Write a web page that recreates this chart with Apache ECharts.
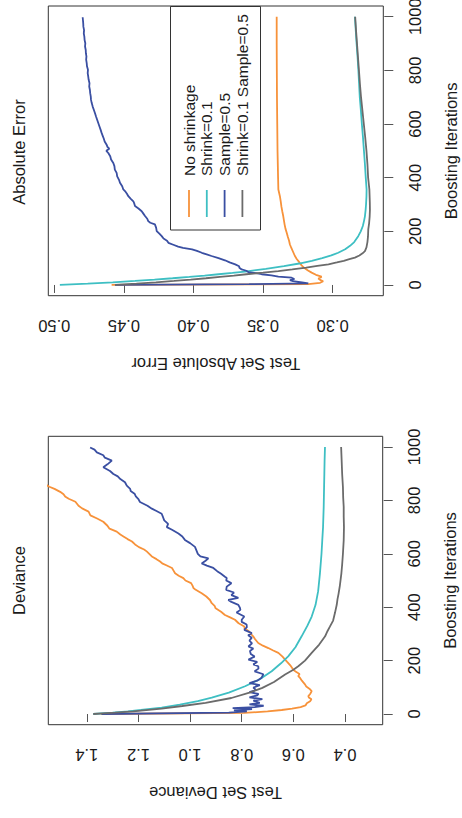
<!DOCTYPE html>
<html>
<head>
<meta charset="utf-8">
<script src="https://cdn.jsdelivr.net/npm/echarts@6/dist/echarts.min.js"></script>
<style>
html,body{margin:0;padding:0;background:#fff;}
#chart{width:462px;height:818px;}
</style>
</head>
<body>
<div id="chart"></div>
<script>
// ---------- data ----------
const seriesNames = ["No shrinkage", "Shrink=0.1", "Sample=0.5", "Shrink=0.1 Sample=0.5"];
const iterTicks = [0, 200, 400, 600, 800, 1000];
const absTicks = [0.30, 0.35, 0.40, 0.45, 0.50];
const devTicks = [0.4, 0.6, 0.8, 1.0, 1.2, 1.4];

// Absolute Error panel
const absNoShrinkIter = [0,3,8,14,19,24,28,31,38,46,55,64,73,85,97,108,122,137,151,165,180,195,210,225,241,257,275,292,312,331,356,400,450,500,600,700,800,900,1000];
const absNoShrink = [0.4588,0.3175,0.309,0.3068,0.309,0.3103,0.3085,0.308,0.312,0.3151,0.318,0.3205,0.3223,0.324,0.3258,0.3271,0.3283,0.3296,0.3307,0.3313,0.3322,0.333,0.3339,0.3345,0.335,0.3355,0.3362,0.3368,0.3373,0.3379,0.339,0.3392,0.3394,0.3396,0.3398,0.34,0.3401,0.3402,0.3402];

const absShrinkIter = [0,5,10,15,20,25,30,35,40,45,50,60,70,80,90,100,110,120,133,146,160,182,200,220,240,256,280,300,330,356,400,450,500,550,600,650,700,750,800,850,900,950,1000];
const absShrink = [0.496,0.476,0.458,0.442,0.428,0.415,0.403,0.392,0.382,0.372,0.363,0.348,0.335,0.324,0.315,0.3075,0.301,0.296,0.291,0.2875,0.2845,0.2816,0.2798,0.2783,0.2774,0.2768,0.2763,0.276,0.2757,0.2756,0.2762,0.2768,0.2775,0.2782,0.279,0.2797,0.2805,0.281,0.2815,0.2821,0.2828,0.2834,0.284];

const absSampleIter = [0,3,6,10,14,18,22,27,31,36,40,44,48,53,58,64,70,77,84,92,100,108,114,120,127,133,138,143,150,157,165,173,182,191,201,213,226,232,238,247,257,266,275,285,294,303,312,322,331,340,350,356,368,381,392,405,418,430,443,455,468,480,492,500,508,515,523,535,545,556,567,580,592,604,616,628,641,653,665,678,690,703,715,727,740,752,765,777,790,802,815,827,840,852,864,876,889,901,913,926,938,950,963,975,987,998];
const absSample = [0.4564,0.36,0.3175,0.322,0.3285,0.3307,0.3275,0.3295,0.339,0.344,0.351,0.355,0.3606,0.362,0.3654,0.367,0.3672,0.370,0.374,0.3774,0.382,0.387,0.3905,0.394,0.3975,0.401,0.4075,0.411,0.4145,0.418,0.419,0.4215,0.4228,0.4245,0.4264,0.4268,0.4277,0.431,0.4325,0.4332,0.4348,0.436,0.4372,0.4395,0.442,0.4425,0.4432,0.4452,0.4468,0.4478,0.4492,0.4504,0.4512,0.4528,0.4535,0.4548,0.4552,0.4565,0.4568,0.4576,0.4592,0.4598,0.4612,0.4626,0.4605,0.4618,0.4624,0.4638,0.4644,0.4652,0.466,0.4668,0.4676,0.4684,0.4692,0.47,0.4708,0.4716,0.4724,0.4731,0.4736,0.4738,0.4742,0.4744,0.4749,0.4747,0.4753,0.4756,0.476,0.4758,0.4765,0.4767,0.4771,0.4769,0.4773,0.4774,0.4779,0.4777,0.4782,0.4784,0.4788,0.4786,0.4791,0.4792,0.4794,0.4796];

const absBothIter = [0,5,10,15,20,25,30,35,40,46,52,58,65,71,77,84,90,96,102,110,118,126,140,160,180,207,230,255,281,310,356,400,450,500,550,600,650,700,750,800,850,900,950,1000];
const absBoth = [0.4564,0.441,0.427,0.414,0.402,0.391,0.381,0.371,0.362,0.35,0.339,0.329,0.319,0.311,0.303,0.297,0.292,0.288,0.284,0.2808,0.2785,0.2768,0.2757,0.275,0.2746,0.2744,0.2738,0.2734,0.2732,0.2733,0.2736,0.2745,0.275,0.2757,0.2766,0.2776,0.2786,0.2796,0.2804,0.2811,0.2818,0.2825,0.2832,0.2838];

// Deviance panel
const devNoShrinkIter = [0,4,10,15,20,26,32,40,48,55,62,67,75,86,95,103,111,125,135,142,150,158,166,180,195,204,215,229,238,247,256,266,280,290,297,310,320,328,340,353,362,371,383,396,405,415,427,440,452,465,472,480,490,500,509,518,527,537,547,556,564,571,580,590,600,609,616,625,635,646,655,665,672,683,694,705,720,732,744,758,770,780,795,806,815,823,832,843,851,860];
const devNoShrink = [1.345,0.79,0.70,0.645,0.605,0.572,0.553,0.548,0.535,0.53,0.54,0.542,0.535,0.529,0.538,0.55,0.555,0.567,0.574,0.581,0.576,0.59,0.60,0.61,0.624,0.632,0.642,0.658,0.678,0.697,0.718,0.736,0.748,0.755,0.761,0.772,0.789,0.79,0.812,0.826,0.845,0.865,0.88,0.901,0.905,0.916,0.923,0.937,0.955,0.978,0.987,0.99,0.996,1.018,1.026,1.044,1.058,1.064,1.07,1.09,1.108,1.116,1.13,1.148,1.158,1.168,1.178,1.198,1.213,1.225,1.242,1.258,1.27,1.284,1.312,1.32,1.336,1.36,1.386,1.393,1.418,1.432,1.444,1.47,1.484,1.49,1.503,1.525,1.545,1.56];

const devShrinkIter = [0,5,10,15,24,35,48,61,80,104,130,160,190,216,250,291,330,365,409,460,527,600,651,700,775,850,900,950,1000];
const devShrink = [1.375,1.30,1.24,1.19,1.11,1.04,0.97,0.916,0.85,0.787,0.73,0.684,0.648,0.62,0.592,0.568,0.546,0.529,0.514,0.504,0.497,0.491,0.488,0.485,0.4825,0.481,0.48,0.479,0.4775];

const devSampleIter = [0,5,10,14,18,22,26,31,36,42,50,56,62,70,75,82,90,99,108,116,125,136,149,160,170,179,186,195,204,215,225,236,245,253,265,275,286,295,303,315,325,335,345,353,365,380,390,398,409,420,427,435,445,455,465,477,490,500,509,514,525,535,547,556,564,574,583,590,600,612,626,640,652,665,676,690,700,712,725,738,750,760,769,780,794,805,815,825,835,843,855,868,880,890,899,910,924,935,949,960,969,980,990,998];
const devSample = [1.342,0.85,0.78,0.83,0.76,0.835,0.75,0.715,0.77,0.73,0.755,0.72,0.77,0.74,0.735,0.77,0.745,0.755,0.73,0.77,0.74,0.723,0.716,0.75,0.735,0.736,0.755,0.74,0.774,0.75,0.765,0.768,0.755,0.774,0.76,0.77,0.761,0.775,0.761,0.79,0.78,0.781,0.80,0.80,0.79,0.82,0.805,0.807,0.813,0.84,0.852,0.813,0.84,0.83,0.86,0.858,0.84,0.86,0.858,0.865,0.88,0.895,0.91,0.935,0.955,0.94,0.929,0.96,0.97,0.975,0.981,1.0,1.02,1.03,1.045,1.07,1.09,1.085,1.10,1.105,1.11,1.13,1.148,1.165,1.194,1.20,1.21,1.215,1.23,1.232,1.245,1.252,1.27,1.28,1.297,1.31,1.336,1.32,1.303,1.33,1.336,1.361,1.37,1.387];

const devBothIter = [0,5,10,20,30,42,60,80,98,120,148,166,179,200,229,260,291,310,328,350,378,409,430,450,480,527,560,600,651,700,740,775,810,850,899,950,1000];
const devBoth = [1.375,1.29,1.22,1.11,1.03,0.94,0.84,0.77,0.72,0.675,0.632,0.60,0.581,0.555,0.529,0.50,0.477,0.468,0.458,0.446,0.439,0.432,0.429,0.425,0.42,0.414,0.411,0.408,0.405,0.404,0.405,0.405,0.407,0.408,0.411,0.413,0.415];

// ---------- build ----------
const colors = ["#F7923A", "#3EBFC3", "#3A4FA2", "#6B6B6B"];
function pairs(iters, vals) { return iters.map((it, i) => [vals[i], it]); }

const FONT = '"Liberation Sans", Arial, Helvetica, sans-serif';
const TXT = '#1a1a1a';
const FS = 16.5;

function valueAxis(grid, min, max, ticks, digits, name) {
  return {
    type: 'value', gridIndex: grid, position: 'bottom', inverse: true,
    min: min, max: max, offset: 2,
    axisLine: { show: false },
    splitLine: { show: false },
    axisTick: { show: true, length: 8, customValues: ticks, lineStyle: { color: '#555', width: 1 } },
    axisLabel: { customValues: ticks, rotate: 180, margin: 20, fontSize: FS, fontFamily: FONT, color: TXT,
      formatter: v => Number(v).toFixed(digits) },
    name: name, nameLocation: 'middle', nameRotate: 180, nameGap: 58,
    nameTextStyle: { fontSize: FS, fontFamily: FONT, color: TXT }
  };
}
function iterAxis(grid) {
  return {
    type: 'value', gridIndex: grid, position: 'right',
    min: -40, max: 1040, offset: 1,
    axisLine: { show: false },
    splitLine: { show: false },
    axisTick: { show: true, length: 9, customValues: iterTicks, lineStyle: { color: '#555', width: 1 } },
    axisLabel: { customValues: iterTicks, rotate: 90, margin: 22, fontSize: FS, fontFamily: FONT, color: TXT,
      formatter: v => String(Math.round(v)) },
    name: 'Boosting Iterations', nameLocation: 'middle', nameRotate: 90, nameGap: 58,
    nameTextStyle: { fontSize: FS, fontFamily: FONT, color: TXT }
  };
}
function lineSeries(idx, grid, data) {
  return {
    type: 'line', name: seriesNames[idx], xAxisIndex: grid, yAxisIndex: grid,
    data: data, showSymbol: false, symbol: 'none', clip: true, smooth: false,
    lineStyle: { color: colors[idx], width: 1.8 }, itemStyle: { color: colors[idx] },
    z: 2 + idx
  };
}

const absData = [pairs(absNoShrinkIter, absNoShrink), pairs(absShrinkIter, absShrink), pairs(absSampleIter, absSample), pairs(absBothIter, absBoth)];
const devData = [pairs(devNoShrinkIter, devNoShrink), pairs(devShrinkIter, devShrink), pairs(devSampleIter, devSample), pairs(devBothIter, devBoth)];

const series = [];
absData.forEach((d, i) => series.push(lineSeries(i, 0, d)));
devData.forEach((d, i) => series.push(lineSeries(i, 1, d)));

// legend drawn as rotated R-style box
const legendCols = [189, 206.8, 224.6, 242.4];
const legendChildren = [
  { type: 'rect', shape: { x: 170.5, y: 6.5, width: 90, height: 223.5 }, style: { fill: 'none', stroke: '#333', lineWidth: 1 } }
];
seriesNames.forEach((n, i) => {
  legendChildren.push({ type: 'line', shape: { x1: legendCols[i], y1: 190, x2: legendCols[i], y2: 217 },
    style: { stroke: colors[i], lineWidth: 1.8 } });
  legendChildren.push({ type: 'text', x: legendCols[i], y: 176, rotation: Math.PI / 2,
    style: { text: n, fontSize: 15.5, fontFamily: FONT, fill: TXT, align: 'left', verticalAlign: 'middle' } });
});

const option = {
  animation: false,
  backgroundColor: '#fff',
  grid: [
    { left: 48.3, top: 6, width: 335, height: 289.7, show: true, borderColor: '#333', borderWidth: 1, backgroundColor: 'transparent', outerBoundsMode: 'none' },
    { left: 48.3, top: 436.3, width: 334.4, height: 288.4, show: true, borderColor: '#333', borderWidth: 1, backgroundColor: 'transparent', outerBoundsMode: 'none' }
  ],
  xAxis: [
    valueAxis(0, 0.2636, 0.5043, absTicks, 2, 'Test Set Absolute Error'),
    valueAxis(1, 0.254, 1.549, devTicks, 1, 'Test Set Deviance')
  ],
  yAxis: [iterAxis(0), iterAxis(1)],
  series: series,
  graphic: [
    { type: 'text', x: 18.8, y: 152, rotation: Math.PI / 2,
      style: { text: 'Absolute Error', fontSize: FS, fontFamily: FONT, fill: TXT, align: 'center', verticalAlign: 'middle' } },
    { type: 'text', x: 18.5, y: 580.5, rotation: Math.PI / 2,
      style: { text: 'Deviance', fontSize: FS, fontFamily: FONT, fill: TXT, align: 'center', verticalAlign: 'middle' } },
    { type: 'group', children: legendChildren }
  ]
};

const chart = echarts.init(document.getElementById('chart'), null, { renderer: 'svg' });
chart.setOption(option);
</script>
</body>
</html>
